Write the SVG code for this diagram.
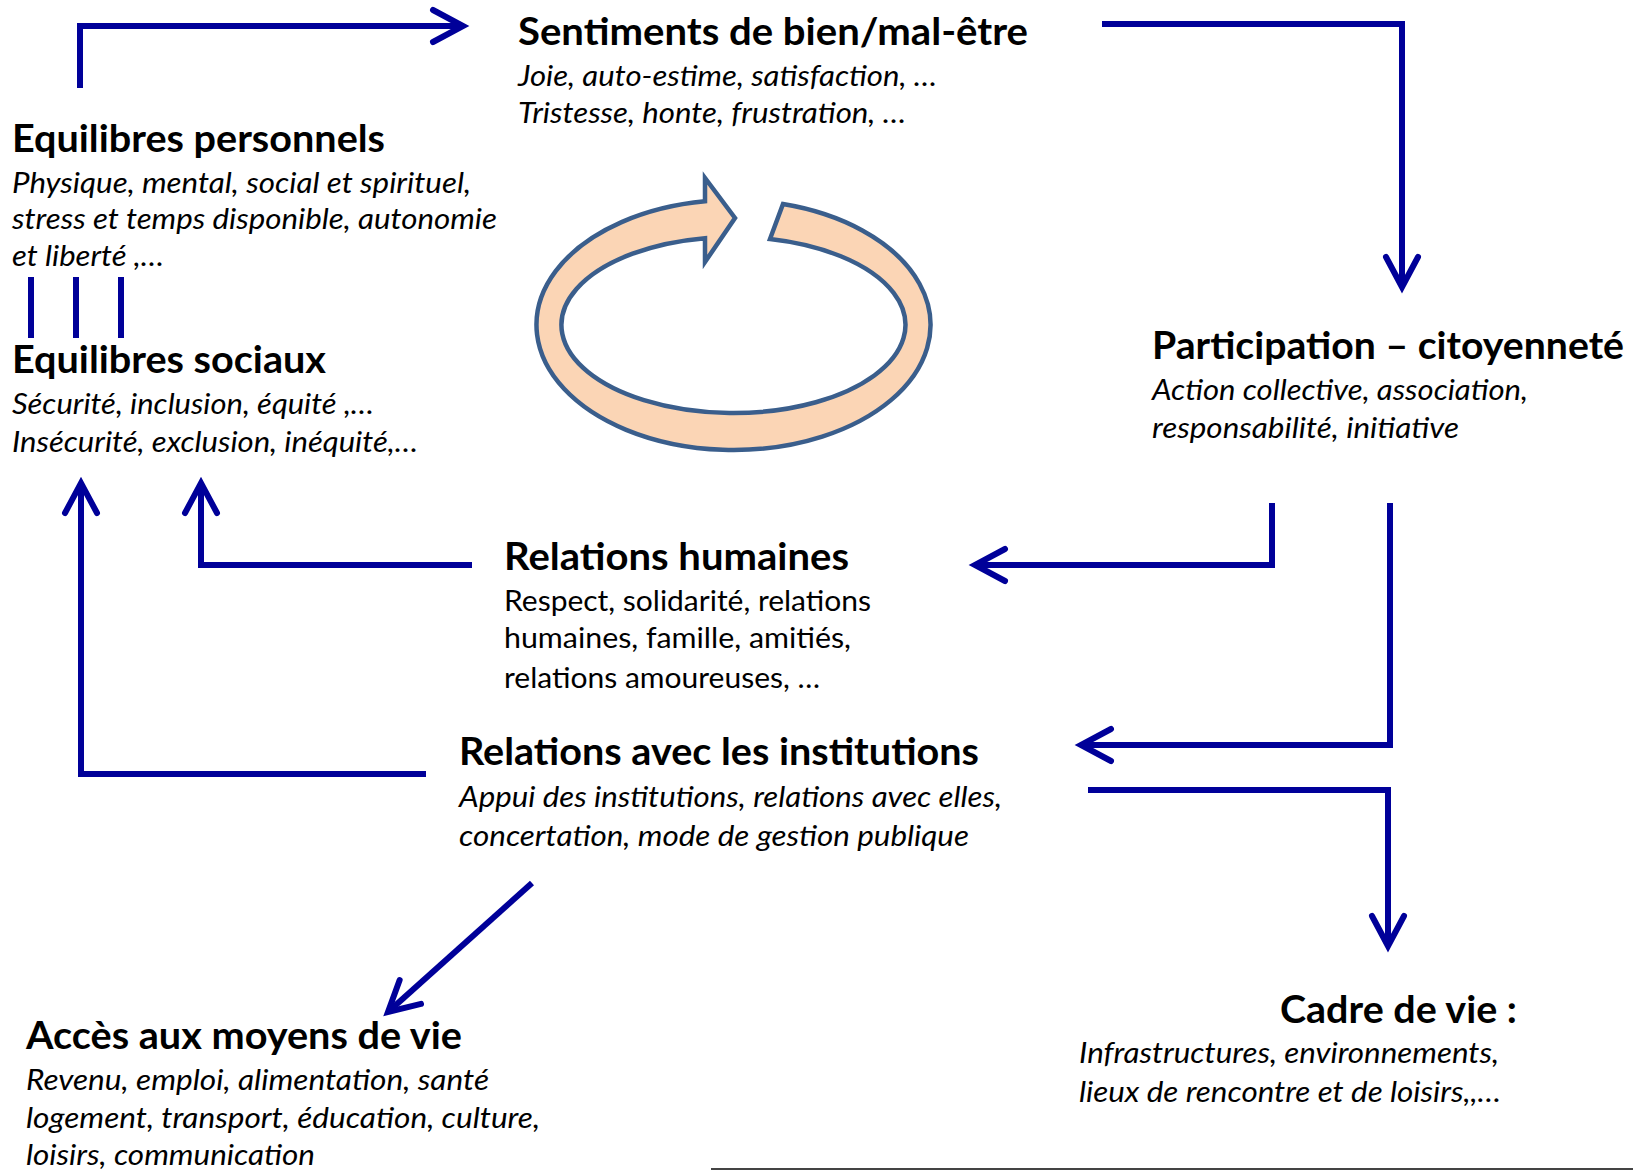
<svg xmlns="http://www.w3.org/2000/svg" width="1633" height="1171" viewBox="0 0 1633 1171">
<style>
text{font-family:Lato,"Liberation Sans",sans-serif;fill:#000}
.t{font-weight:700;font-size:38px}
.i{font-style:italic;font-size:28px}
.r{font-size:28px}
.c{fill:none;stroke:#000099;stroke-width:6;stroke-linejoin:miter}
</style>
<defs>
<marker id="ah" markerUnits="userSpaceOnUse" markerWidth="44" markerHeight="44" viewBox="-40 -22 44 44" refX="0" refY="0" orient="auto" overflow="visible">
<path d="M -30 -16 L 0 0 L -30 16" fill="none" stroke="#000099" stroke-width="6" stroke-linecap="round" stroke-linejoin="miter"/>
</marker>
</defs>
<rect width="1633" height="1171" fill="#fff"/>
<g id="connectors">
<path class="c" d="M 80 88 V 26 H 463" marker-end="url(#ah)"/>
<path class="c" d="M 1102 24 H 1402 V 287" marker-end="url(#ah)"/>
<path class="c" d="M 1272 503 V 565 H 975" marker-end="url(#ah)"/>
<path class="c" d="M 1390 503 V 745 H 1081" marker-end="url(#ah)"/>
<path class="c" d="M 1088 790 H 1388 V 946" marker-end="url(#ah)"/>
<path class="c" d="M 426 774 H 81 V 483" marker-end="url(#ah)"/>
<path class="c" d="M 472 565 H 201 V 483" marker-end="url(#ah)"/>
<path class="c" d="M 532 883 L 388 1012" marker-end="url(#ah)"/>
<path class="c" d="M 31 277 V 338 M 76 277 V 338 M 121 277 V 338"/>
</g>
<g id="cycle">
<path d="M 783 204 A 197 125 0 1 1 705 201.3 L 705 178 L 735 218 L 705 262 L 705 238.2 A 172 88 0 1 0 770 239 Z" fill="#FBD5B5" stroke="#3A5E8C" stroke-width="4.5" stroke-linejoin="miter"/>
</g>
<g id="sentiments">
<text class="t" x="518" y="45" textLength="510" lengthAdjust="spacingAndGlyphs">Sentiments de bien/mal-être</text>
<text class="i" x="518" y="86" textLength="419" lengthAdjust="spacingAndGlyphs">Joie, auto-estime, satisfaction, …</text>
<text class="i" x="518" y="123" textLength="388" lengthAdjust="spacingAndGlyphs">Tristesse, honte, frustration, …</text>
</g>
<g id="equilibres-personnels">
<text class="t" x="12" y="152" textLength="373" lengthAdjust="spacingAndGlyphs">Equilibres personnels</text>
<text class="i" x="12" y="193" textLength="459" lengthAdjust="spacingAndGlyphs">Physique, mental, social et spirituel,</text>
<text class="i" x="12" y="229" textLength="485" lengthAdjust="spacingAndGlyphs">stress et temps disponible, autonomie</text>
<text class="i" x="12" y="266" textLength="152" lengthAdjust="spacingAndGlyphs">et liberté ,…</text>
</g>
<g id="equilibres-sociaux">
<text class="t" x="12" y="373" textLength="314" lengthAdjust="spacingAndGlyphs">Equilibres sociaux</text>
<text class="i" x="12" y="414" textLength="362" lengthAdjust="spacingAndGlyphs">Sécurité, inclusion, équité ,…</text>
<text class="i" x="12" y="452" textLength="406" lengthAdjust="spacingAndGlyphs">Insécurité, exclusion, inéquité,…</text>
</g>
<g id="participation">
<text class="t" x="1152" y="359" textLength="472" lengthAdjust="spacingAndGlyphs">Participation – citoyenneté</text>
<text class="i" x="1152" y="400" textLength="376" lengthAdjust="spacingAndGlyphs">Action collective, association,</text>
<text class="i" x="1152" y="438" textLength="307" lengthAdjust="spacingAndGlyphs">responsabilité, initiative</text>
</g>
<g id="relations-humaines">
<text class="t" x="504" y="570" textLength="345" lengthAdjust="spacingAndGlyphs">Relations humaines</text>
<text class="r" x="504" y="611" textLength="367" lengthAdjust="spacingAndGlyphs">Respect, solidarité, relations</text>
<text class="r" x="504" y="648" textLength="347" lengthAdjust="spacingAndGlyphs">humaines, famille, amitiés,</text>
<text class="r" x="504" y="688" textLength="316" lengthAdjust="spacingAndGlyphs">relations amoureuses, …</text>
</g>
<g id="relations-institutions">
<text class="t" x="459" y="765" textLength="520" lengthAdjust="spacingAndGlyphs">Relations avec les institutions</text>
<text class="i" x="459" y="807" textLength="543" lengthAdjust="spacingAndGlyphs">Appui des institutions, relations avec elles,</text>
<text class="i" x="459" y="846" textLength="510" lengthAdjust="spacingAndGlyphs">concertation, mode de gestion publique</text>
</g>
<g id="acces">
<text class="t" x="26" y="1049" textLength="436" lengthAdjust="spacingAndGlyphs">Accès aux moyens de vie</text>
<text class="i" x="26" y="1090" textLength="463" lengthAdjust="spacingAndGlyphs">Revenu, emploi, alimentation, santé</text>
<text class="i" x="26" y="1128" textLength="514" lengthAdjust="spacingAndGlyphs">logement, transport, éducation, culture,</text>
<text class="i" x="26" y="1165" textLength="289" lengthAdjust="spacingAndGlyphs">loisirs, communication</text>
</g>
<g id="cadre-de-vie">
<text class="t" x="1280" y="1023" textLength="237" lengthAdjust="spacingAndGlyphs">Cadre de vie :</text>
<text class="i" x="1079" y="1063" textLength="420" lengthAdjust="spacingAndGlyphs">Infrastructures, environnements,</text>
<text class="i" x="1079" y="1102" textLength="422" lengthAdjust="spacingAndGlyphs">lieux de rencontre et de loisirs,,…</text>
</g>
<line x1="711" y1="1169" x2="1633" y2="1169" stroke="#444" stroke-width="2"/>
</svg>
